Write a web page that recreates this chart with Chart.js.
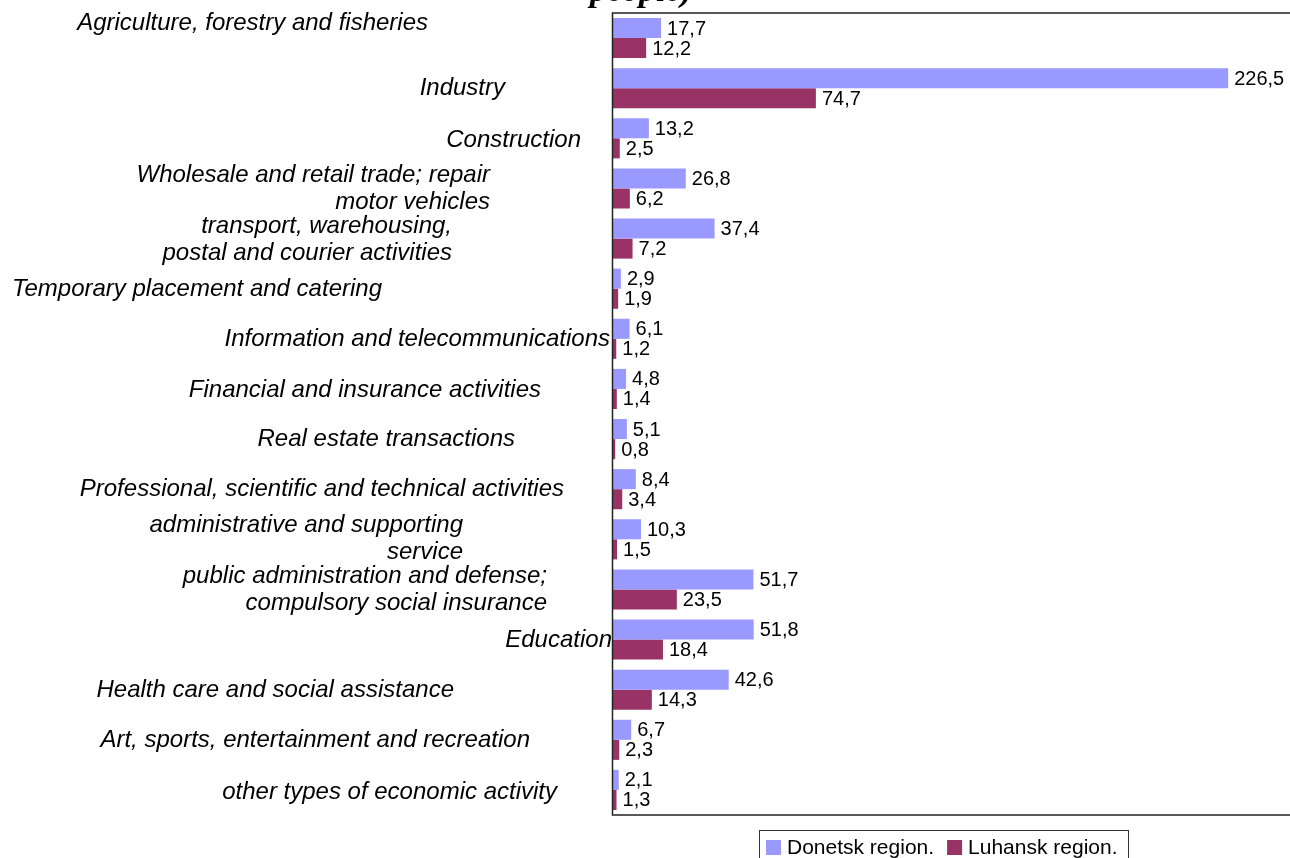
<!DOCTYPE html>
<html>
<head>
<meta charset="utf-8">
<script src="https://cdn.jsdelivr.net/npm/chart.js@4/dist/chart.umd.min.js"></script>
<style>
  body { margin: 0; background: #fff; overflow: hidden; }
  #wrap { width: 1290px; height: 858px; overflow: hidden; }
</style>
</head>
<body>
<div id="wrap"><canvas id="employment" width="1300" height="858"></canvas></div>
<script>
// employment by activity, thousand people
const categories = [
  'Agriculture, forestry and fisheries',
  'Industry',
  'Construction',
  ['Wholesale and retail trade; repair', 'motor vehicles'],
  ['transport, warehousing,', 'postal and courier activities'],
  'Temporary placement and catering',
  'Information and telecommunications',
  'Financial and insurance activities',
  'Real estate transactions',
  'Professional, scientific and technical activities',
  ['administrative and supporting', 'service'],
  ['public administration and defense;', 'compulsory social insurance'],
  'Education',
  'Health care and social assistance',
  'Art, sports, entertainment and recreation',
  'other types of economic activity'
];
const donetsk = [17.7, 226.5, 13.2, 26.8, 37.4, 2.9, 6.1, 4.8, 5.1, 8.4, 10.3, 51.7, 51.8, 42.6, 6.7, 2.1];
const luhansk = [12.2, 74.7, 2.5, 6.2, 7.2, 1.9, 1.2, 1.4, 0.8, 3.4, 1.5, 23.5, 18.4, 14.3, 2.3, 1.3];
const seriesNames = ['Donetsk region.', 'Luhansk region.'];

// where each category label ends on the left, and its vertical nudge
const labelRight = [428, 505, 581, 490, 452, 382, 610, 541, 515, 564, 463, 547, 612, 454, 530, 557];
const labelShift = [-15, 0, 2, 0, 1, 1, 1, 1, 0, 0, 0, 0, 1, 1, 1, 2];

const fmt = v => v.toFixed(1).replace('.', ',');

const decorations = {
  id: 'decorations',
  afterDatasetsDraw(chart) {
    const ctx = chart.ctx;
    const area = chart.chartArea;
    const yScale = chart.scales.y;

    ctx.save();
    // frame
    ctx.strokeStyle = '#222';
    ctx.lineWidth = 1.5;
    ctx.strokeRect(area.left - 0.5, area.top, area.right - area.left, area.bottom - area.top);

    // values at the bar ends
    ctx.fillStyle = '#000';
    ctx.font = '20px "Liberation Sans", Arial, sans-serif';
    ctx.textAlign = 'left';
    ctx.textBaseline = 'middle';
    chart.data.datasets.forEach((ds, di) => {
      chart.getDatasetMeta(di).data.forEach((bar, i) => {
        ctx.fillText(fmt(ds.data[i]), bar.x + 6, bar.y + 1);
      });
    });

    // category labels
    ctx.font = 'italic 24px "Liberation Sans", Arial, sans-serif';
    ctx.textAlign = 'right';
    categories.forEach((c, i) => {
      const lines = Array.isArray(c) ? c : [c];
      const yc = yScale.getPixelForValue(i) + labelShift[i];
      lines.forEach((ln, k) => {
        const y = yc + (k - (lines.length - 1) / 2) * 27;
        ctx.fillText(ln, labelRight[i], y);
      });
    });

    // what is left of the title
    ctx.font = 'bold italic 34px "Liberation Serif", "Times New Roman", serif';
    ctx.textAlign = 'left';
    ctx.textBaseline = 'alphabetic';
    ctx.fillText('people)', 590, 1);

    // legend
    ctx.strokeStyle = '#333';
    ctx.lineWidth = 1;
    ctx.strokeRect(759.5, 830.5, 369, 40);
    ctx.font = '21px "Liberation Sans", Arial, sans-serif';
    ctx.textBaseline = 'middle';
    let x = 766;
    chart.data.datasets.forEach((ds) => {
      ctx.fillStyle = ds.backgroundColor;
      ctx.fillRect(x, 840, 15, 15);
      ctx.fillStyle = '#000';
      ctx.fillText(ds.label, x + 21, 848);
      x += 21 + ctx.measureText(ds.label).width + 13;
    });
    ctx.restore();
  }
};

new Chart(document.getElementById('employment'), {
  type: 'bar',
  data: {
    labels: categories,
    datasets: [
      {
        label: seriesNames[0],
        data: donetsk,
        backgroundColor: '#9999ff',
        categoryPercentage: 0.8,
        barPercentage: 1.0
      },
      {
        label: seriesNames[1],
        data: luhansk,
        backgroundColor: '#993366',
        categoryPercentage: 0.8,
        barPercentage: 1.0
      }
    ]
  },
  options: {
    indexAxis: 'y',
    responsive: false,
    animation: false,
    devicePixelRatio: 1,
    layout: { padding: { left: 613, top: 13, right: 8, bottom: 43 } },
    plugins: {
      legend: { display: false },
      title: { display: false },
      tooltip: { enabled: false }
    },
    scales: {
      x: { display: false, min: 0, max: 250 },
      y: { display: false }
    }
  },
  plugins: [decorations]
});
</script>
</body>
</html>
